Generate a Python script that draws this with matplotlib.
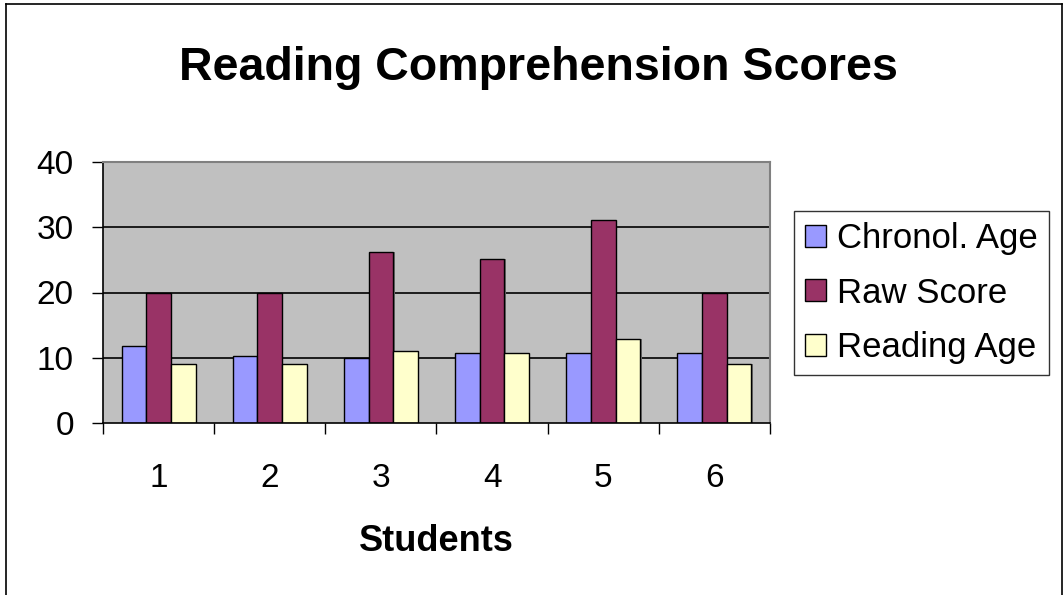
import numpy as np
import matplotlib.pyplot as plt
from matplotlib.lines import Line2D

students = ['1', '2', '3', '4', '5', '6']
chronol_age = [11.75, 10.3, 10.0, 10.7, 10.7, 10.7]
raw_score = [20, 20, 26.2, 25.2, 31.1, 20]
reading_age = [9, 9, 11, 10.7, 12.9, 9]

series = [
    ("Chronol. Age", chronol_age, '#9999FF'),
    ("Raw Score", raw_score, '#993366'),
    ("Reading Age", reading_age, '#FFFFCC'),
]

plt.rcParams['font.family'] = ['Liberation Sans', 'DejaVu Sans']

fig = plt.figure(figsize=(10.64, 5.95), dpi=100)
ax = fig.add_axes([103 / 1064, 1 - 423 / 595, 667 / 1064, 261 / 595])
ax.set_facecolor('#C0C0C0')

x = np.arange(len(students))
w = 1 / 4.5
for i, (name, vals, col) in enumerate(series):
    off = (i - 1) * w
    # drop shadow like the old office chart
    ax.bar(x + off + 0.012, vals, width=w, color='#707070', zorder=2, linewidth=0)
    ax.bar(x + off, vals, width=w, color=col, edgecolor='black', linewidth=1.0,
           label=name, zorder=3)

ax.set_xlim(-0.5, len(students) - 0.5)
ax.set_ylim(0, 40)
ax.set_yticks([0, 10, 20, 30, 40])
ax.tick_params(axis='y', labelsize=24, direction='out', length=8, width=1, pad=13)
ax.set_xticks(x)
ax.set_xticklabels(students)
ax.tick_params(axis='x', which='major', length=0, labelsize=24, pad=29)
ax.set_xticks(np.arange(-0.5, len(students)), minor=True)
ax.tick_params(axis='x', which='minor', direction='out', length=8, width=1, color='black')

for yv in [10, 20, 30]:
    ax.axhline(yv, color='black', linewidth=1.2, zorder=1)

for s in ['top', 'right']:
    ax.spines[s].set_color('#808080')
    ax.spines[s].set_linewidth(1.5)
for s in ['left', 'bottom']:
    ax.spines[s].set_color('black')
    ax.spines[s].set_linewidth(1.2)
ax.spines['bottom'].set_zorder(5)

ax.set_xlabel("Students", fontsize=26, fontweight='bold')
ax.xaxis.set_label_coords(0.5, -0.386)

fig.text(538 / 1064, 1 - 68 / 595, "Reading Comprehension Scores", fontsize=33.5,
         fontweight='bold', ha='center', va='center')

handles, labels = ax.get_legend_handles_labels()
leg = fig.legend(handles, labels, loc='upper left',
                 bbox_to_anchor=(794 / 1064, 1 - 211 / 595), borderaxespad=0,
                 fontsize=25, frameon=True, fancybox=False, edgecolor='black',
                 handlelength=0.6, handleheight=0.6, handletextpad=0.32,
                 labelspacing=0.62, borderpad=0.32)
leg.get_frame().set_linewidth(1.0)

# outer chart border
border = [
    Line2D([6 / 1064, 6 / 1064], [0, 1 - 4 / 595]),
    Line2D([6 / 1064, 1062 / 1064], [1 - 4 / 595, 1 - 4 / 595]),
    Line2D([1062 / 1064, 1062 / 1064], [0, 1 - 4 / 595]),
]
for ln in border:
    ln.set_transform(fig.transFigure)
    ln.set_color('black')
    ln.set_linewidth(1.2)
    fig.add_artist(ln)

fig.savefig("out.png", dpi=100)
